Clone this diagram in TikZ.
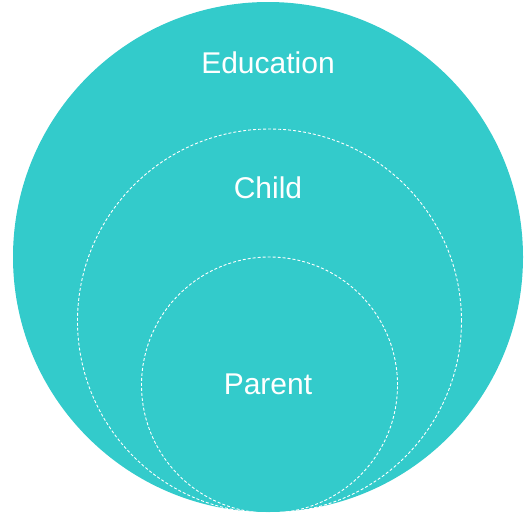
\documentclass[tikz,border=0pt]{standalone}
\usepackage{fontspec}
\setmainfont{Liberation Sans}
\usepackage{xcolor}
\usetikzlibrary{positioning}
\definecolor{ringteal}{HTML}{33CBCB}

\begin{document}
\begin{tikzpicture}[
  x=1pt, y=-1pt,
  disc/.style={circle, fill=ringteal, inner sep=0pt, minimum size=#1},
  ring/.style={circle, draw=white, dash pattern=on 3pt off 2pt, line width=0.9pt,
    inner sep=0pt, minimum size=#1},
  tag/.style={font=\fontsize{30}{36}\selectfont, text=white, inner sep=0pt, anchor=center},
]
  \useasboundingbox (0,0) rectangle (524,515);
  \node[disc=510pt] (edu) at (268,257) {};
  \node[ring=384pt] (child) at (269.5,321) {};
  \node[ring=256pt] (parent) at (269.5,385) {};

  \node[tag] (edutxt) at (268,63) {Education};
  \node[tag] (childtxt) at (268,188) {Child};
  \node[tag] (parenttxt) at (268,384) {Parent};
\end{tikzpicture}
\end{document}
